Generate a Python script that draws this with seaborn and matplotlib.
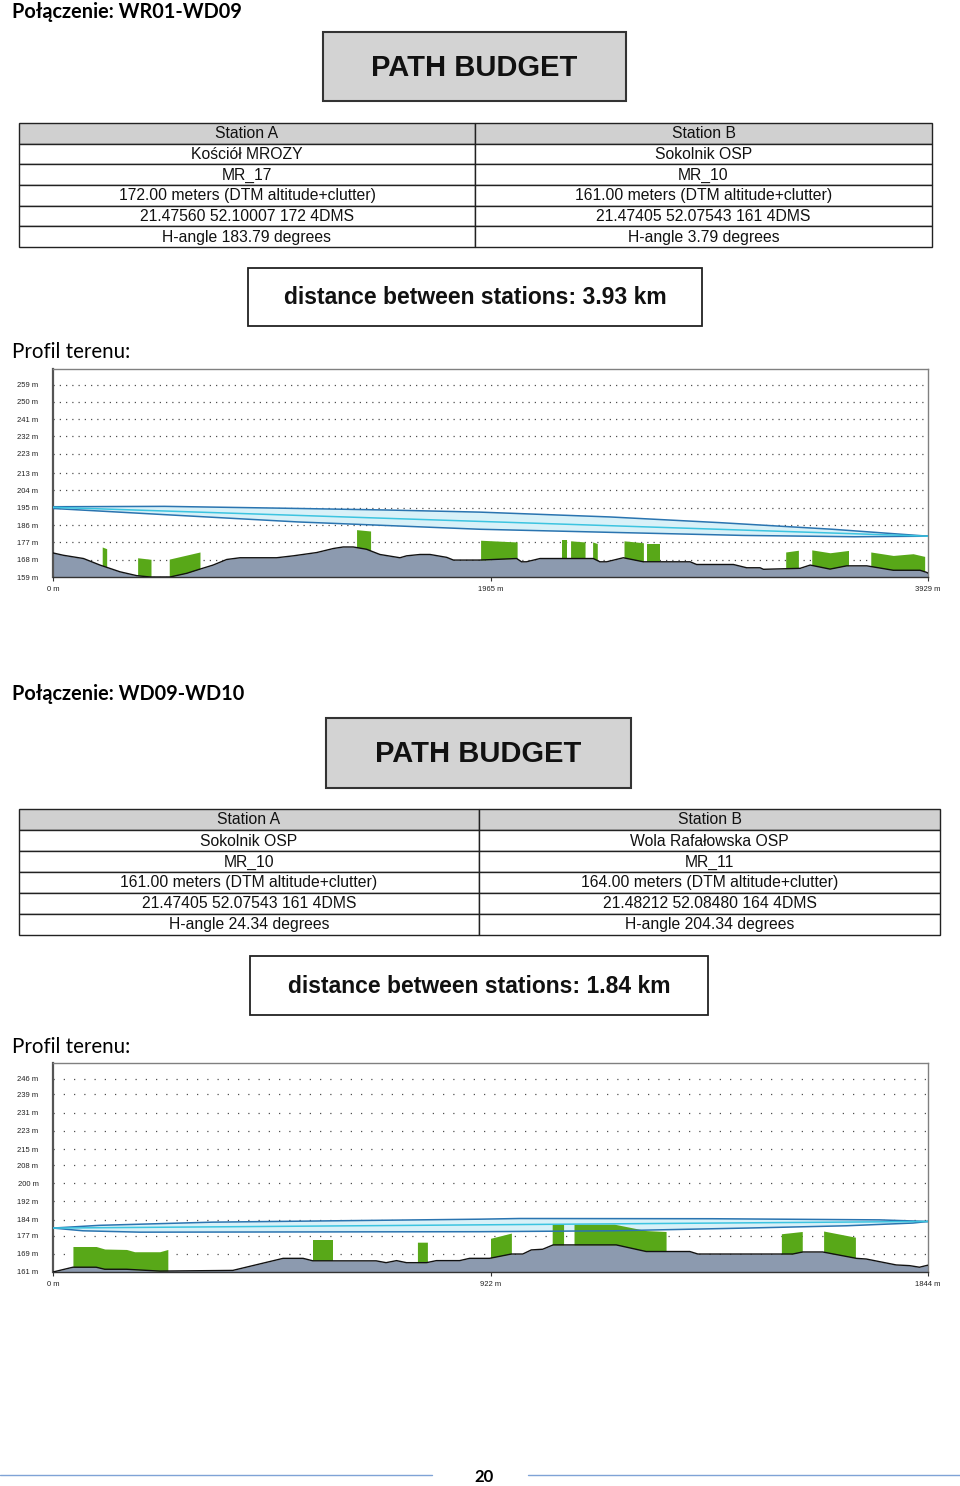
"""Path budget page: two radio links with terrain profiles."""
import numpy as np
import matplotlib
matplotlib.use("Agg")
import matplotlib.pyplot as plt
from matplotlib.patches import Rectangle
import seaborn as sns

# ---- link 1: WR01-WD09 ----
title_1 = "Połączenie: WR01-WD09"
station_a_1 = ["Station A", "Kościół MROZY", "MR_17", "172.00 meters (DTM altitude+clutter)",
               "21.47560 52.10007 172 4DMS", "H-angle 183.79 degrees"]
station_b_1 = ["Station B", "Sokolnik OSP", "MR_10", "161.00 meters (DTM altitude+clutter)",
               "21.47405 52.07543 161 4DMS", "H-angle 3.79 degrees"]
distance_1 = "distance between stations: 3.93 km"
yticks_1 = [159, 168, 177, 186, 195, 204, 213, 223, 232, 241, 250, 259]
xticks_1 = [0, 1965, 3929]

terrain_d_1 = [0, 46, 137, 211, 301, 376, 436, 525, 600, 660, 719, 780, 840, 1004, 1079, 1184,
               1259, 1303, 1348, 1408, 1468, 1558, 1588, 1648, 1693, 1768, 1798, 1917, 2082, 2104,
               2126, 2187, 2291, 2426, 2456, 2486, 2561, 2651, 2861, 2890, 3055, 3115, 3175, 3190,
               3355, 3400, 3489, 3564, 3654, 3773, 3893, 3923, 3929]
terrain_e_1 = [171.5, 170.3, 168.6, 165.2, 161.7, 159.7, 159.0, 159.0, 160.9, 163.1, 165.2, 168.1,
               169.0, 169.0, 170.0, 171.7, 173.8, 174.6, 174.6, 173.4, 170.7, 169.0, 170.0, 170.7,
               170.7, 169.2, 167.8, 167.8, 168.6, 166.9, 166.9, 168.6, 168.6, 168.6, 166.9, 166.9,
               169.0, 166.9, 166.9, 165.5, 165.5, 163.8, 163.8, 163.0, 163.5, 165.2, 163.1, 164.8,
               164.8, 162.5, 162.5, 161.4, 161.0]
# clutter blocks: (distances, top elevations)
clutter_1 = [
    ([221, 241], [174.6, 173.7]),
    ([380, 440], [169.0, 168.2]),
    ([522, 660], [168.3, 172.0]),
    ([1363, 1426], [183.6, 182.9]),
    ([1920, 2084], [178.1, 177.2]),
    ([2284, 2308], [178.0, 178.0]),
    ([2324, 2389], [177.8, 177.2]),
    ([2423, 2444], [177.2, 176.4]),
    ([2564, 2651], [177.8, 176.8]),
    ([2666, 2726], [176.1, 176.1]),
    ([3290, 3347], [172.0, 172.9]),
    ([3407, 3489, 3572], [173.1, 171.6, 172.8]),
    ([3672, 3773, 3862, 3914], [172.0, 170.2, 171.1, 169.7]),
]
fresnel_up_d_1 = [0, 500, 1000, 1500, 1917, 2500, 3000, 3500, 3929]
fresnel_up_e_1 = [195.5, 195.7, 194.8, 193.8, 192.7, 190.2, 187.2, 183.8, 180.2]
fresnel_lo_d_1 = [0, 500, 1100, 1917, 2500, 3100, 3600, 3929]
fresnel_lo_e_1 = [194.6, 191.4, 187.6, 183.8, 182.2, 180.6, 179.9, 180.2]
los_d_1 = [0, 3929]
los_e_1 = [195.2, 180.2]

# ---- link 2: WD09-WD10 ----
title_2 = "Połączenie: WD09-WD10"
station_a_2 = ["Station A", "Sokolnik OSP", "MR_10", "161.00 meters (DTM altitude+clutter)",
               "21.47405 52.07543 161 4DMS", "H-angle 24.34 degrees"]
station_b_2 = ["Station B", "Wola Rafałowska OSP", "MR_11", "164.00 meters (DTM altitude+clutter)",
               "21.48212 52.08480 164 4DMS", "H-angle 204.34 degrees"]
distance_2 = "distance between stations: 1.84 km"
yticks_2 = [161, 169, 177, 184, 192, 200, 208, 215, 223, 231, 239, 246]
xticks_2 = [0, 922, 1844]

terrain_d_2 = [0, 42, 91, 109, 155, 225, 379, 421, 485, 527, 548, 681, 702, 724, 745, 787, 808,
               857, 878, 920, 966, 990, 1008, 1032, 1054, 1187, 1250, 1342, 1359, 1559, 1580,
               1622, 1693, 1714, 1777, 1805, 1826, 1844]
terrain_e_2 = [161.0, 163.1, 163.1, 162.2, 162.2, 161.4, 161.7, 163.8, 167.0, 167.0, 165.9, 165.9,
               165.1, 166.0, 165.1, 165.1, 166.0, 166.0, 167.0, 167.0, 168.9, 168.9, 170.7, 171.0,
               172.9, 172.9, 170.0, 170.0, 168.9, 168.9, 169.8, 169.8, 167.0, 166.7, 164.1, 163.8,
               163.1, 164.0]
clutter_2 = [
    ([42, 91, 109, 155, 172, 225, 242], [172.2, 172.2, 171.1, 170.9, 169.9, 169.9, 170.9]),
    ([548, 590], [175.0, 175.0]),
    ([768, 789], [174.1, 174.1]),
    ([922, 966], [175.8, 178.1]),
    ([1052, 1076], [182.0, 182.0]),
    ([1098, 1183, 1250, 1292], [182.0, 182.0, 179.2, 178.8]),
    ([1535, 1579], [177.8, 178.8]),
    ([1624, 1691], [179.0, 176.3]),
]
fresnel_up_d_2 = [0, 98, 337, 899, 983, 1391, 1742, 1844]
fresnel_up_e_2 = [180.3, 181.5, 182.9, 184.2, 184.5, 184.4, 183.9, 183.2]
fresnel_lo_d_2 = [0, 63, 183, 899, 1180, 1461, 1672, 1812, 1844]
fresnel_lo_e_2 = [180.3, 179.1, 178.5, 178.7, 179.1, 180.3, 181.3, 182.5, 183.2]
los_d_2 = [0, 1844]
los_e_2 = [180.3, 183.2]

page_number = "20"

sns.set_theme(style="white")
plt.rcParams["font.family"] = ["Liberation Sans", "DejaVu Sans"]

W, H = 960, 1486
fig = plt.figure(figsize=(W / 100, H / 100), dpi=100)
page = fig.add_axes([0, 0, 1, 1])
page.set_xlim(0, W)
page.set_ylim(H, 0)
page.axis("off")

TERRAIN = "#8c9aaf"
GREEN = "#58a818"
DOC_FONT = ["Lato", "DejaVu Sans"]


def box(x0, y0, x1, y1, fc, ec="#222222", lw=1.0):
    page.add_patch(Rectangle((x0, y0), x1 - x0, y1 - y0, facecolor=fc, edgecolor=ec, lw=lw))


def station_table(x0, x1, xm, y0, y1, col_a, col_b):
    rh = (y1 - y0) / len(col_a)
    for i, (a, b) in enumerate(zip(col_a, col_b)):
        top = y0 + i * rh
        fc = "#d0d0d0" if i == 0 else "white"
        box(x0, top, xm, top + rh, fc)
        box(xm, top, x1, top + rh, fc)
        page.text((x0 + xm) / 2, top + rh / 2 + 0.5, a, ha="center", va="center",
                  fontsize=11.3, color="#111111")
        page.text((xm + x1) / 2, top + rh / 2 + 0.5, b, ha="center", va="center",
                  fontsize=11.3, color="#111111")


def heading(y, title, budget_box, table_box, dist_box, col_a, col_b, dist_text, profil_y):
    page.text(12, y, title, fontsize=14.3, fontweight="bold", family=DOC_FONT,
              va="baseline", color="black")
    bx0, by0, bx1, by1 = budget_box
    box(bx0, by0, bx1, by1, "#d3d3d3", ec="#333333", lw=1.5)
    page.text((bx0 + bx1) / 2, (by0 + by1) / 2 + 1, "PATH BUDGET", ha="center", va="center",
              fontsize=21, fontweight="bold", color="#111111")
    station_table(*table_box, col_a, col_b)
    dx0, dy0, dx1, dy1 = dist_box
    box(dx0, dy0, dx1, dy1, "white", ec="#222222", lw=1.3)
    page.text((dx0 + dx1) / 2, (dy0 + dy1) / 2 + 1, dist_text, ha="center", va="center",
              fontsize=16.5, fontweight="bold", color="#111111")
    page.text(12, profil_y, "Profil terenu:", fontsize=14.8, family=DOC_FONT,
              va="baseline", color="black")


def profile(rect, d_max, yticks, xticks, terr_d, terr_e, clutter,
            up_d, up_e, lo_d, lo_e, los_d, los_e, dots):
    x0, y0, x1, y1 = rect
    ax = fig.add_axes([x0 / W, 1 - y1 / H, (x1 - x0) / W, (y1 - y0) / H])
    terr_d = np.asarray(terr_d, float)
    terr_e = np.asarray(terr_e, float)
    # top tick label sits 15.5 px under the frame
    ymin = yticks[0]
    ymax = ymin + (yticks[-1] - ymin) * (y1 - y0) / (y1 - y0 - 15.5)
    ax.set_xlim(0, d_max)
    ax.set_ylim(ymin, ymax)

    # fresnel zone
    ax.fill(np.r_[up_d, lo_d[::-1]], np.r_[up_e, lo_e[::-1]], color="#d8f1f8", lw=0, zorder=1)

    # terrain + clutter
    ax.fill_between(terr_d, ymin, terr_e, color=TERRAIN, lw=0, zorder=2)
    for cd, ct in clutter:
        inner = terr_d[(terr_d > cd[0]) & (terr_d < cd[-1])]
        xs = np.union1d(cd, inner)
        ax.fill_between(xs, np.interp(xs, terr_d, terr_e), np.interp(xs, cd, ct),
                        color=GREEN, lw=0, zorder=2.5)

    sns.lineplot(x=up_d, y=up_e, ax=ax, color="#2a74b0", lw=1.1, zorder=3)
    sns.lineplot(x=lo_d, y=lo_e, ax=ax, color="#2a74b0", lw=1.1, zorder=3)
    sns.lineplot(x=los_d, y=los_e, ax=ax, color="#3cc4e0", lw=1.1, zorder=3)
    sns.lineplot(x=terr_d, y=terr_e, ax=ax, color="#111111", lw=1.0, zorder=4)
    ax.set_xlabel("")
    ax.set_ylabel("")

    ax.set_yticks(yticks)
    ax.set_yticklabels([f"{v} m" for v in yticks])
    ax.set_xticks(xticks)
    ax.set_xticklabels([f"{v} m" for v in xticks])
    ax.tick_params(axis="y", length=0, pad=10.5, labelsize=5.5, labelcolor="#222222")
    ax.tick_params(axis="x", length=3, width=0.8, color="#333333", direction="out",
                   pad=3.5, labelsize=5.5, labelcolor="#222222", bottom=True)
    ax.grid(True, axis="y", linestyle=(0, (1, dots)), lw=0.9, color="#505050")
    ax.grid(False, axis="x")
    ax.set_axisbelow(True)
    for sp in ax.spines.values():
        sp.set_visible(True)
        sp.set_color("#808080")
        sp.set_linewidth(1.0)
    ax.spines["left"].set_color("#555555")
    ax.spines["left"].set_linewidth(1.6)
    ax.spines["bottom"].set_color("#333333")
    return ax


heading(18.5, title_1, (323, 32, 626, 101), (19, 932, 475, 123, 247),
        (248, 268, 702, 326), station_a_1, station_b_1, distance_1, 358)
profile((53, 369, 928, 577), 3929, yticks_1, xticks_1, terrain_d_1, terrain_e_1, clutter_1,
        fresnel_up_d_1, fresnel_up_e_1, fresnel_lo_d_1, fresnel_lo_e_1, los_d_1, los_e_1, 4.0)

heading(700.5, title_2, (326, 718, 631, 788), (19, 940, 479, 809, 935),
        (250, 956, 708, 1015), station_a_2, station_b_2, distance_2, 1053)
profile((53, 1063, 928, 1272), 1844, yticks_2, xticks_2, terrain_d_2, terrain_e_2, clutter_2,
        fresnel_up_d_2, fresnel_up_e_2, fresnel_lo_d_2, fresnel_lo_e_2, los_d_2, los_e_2, 7.2)

# footer
page.plot([0, 432], [1475, 1475], color="#7fa3d6", lw=1)
page.plot([528, 960], [1475, 1475], color="#7fa3d6", lw=1)
page.text(484, 1477, page_number, ha="center", va="center", fontsize=12, fontweight="bold",
          family=DOC_FONT, color="black")

fig.savefig("out.png", dpi=100)
